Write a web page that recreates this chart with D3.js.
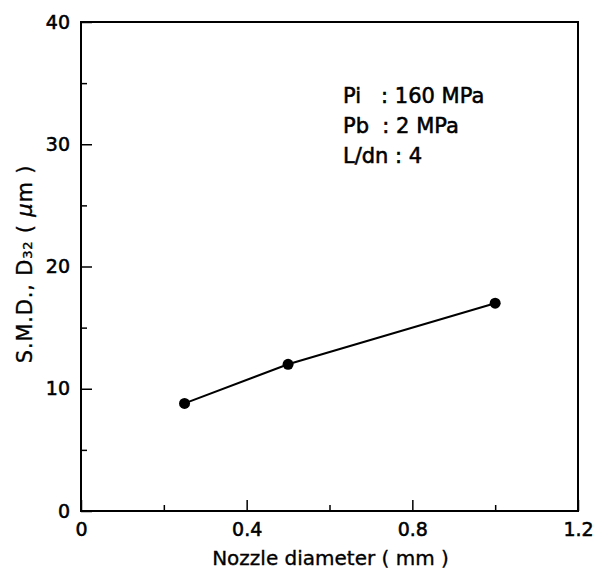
<!DOCTYPE html>
<html>
<head>
<meta charset="utf-8">
<script src="https://cdn.jsdelivr.net/npm/d3@7"></script>
<style>
  html, body { margin: 0; padding: 0; background: #fff; }
  svg { display: block; }
  text { font-family: "DejaVu Sans", sans-serif; fill: #000; stroke: #000; stroke-width: 0.55px; }
  text.lbl { stroke-width: 0.35px; }
</style>
</head>
<body>
<script>
// ---- data ----
const diameters = [0.25, 0.5, 1.0];          // nozzle diameter (mm)
const smd = [8.8, 12.0, 17.0];               // S.M.D. D32 (μm)
const xMajorTicks = [0, 0.4, 0.8, 1.2];
const xTickLabels = ["0", "0.4", "0.8", "1.2"];
const xMinorTicks = [0.2, 0.6, 1.0];
const yMajorTicks = [0, 10, 20, 30, 40];
const yTickLabels = ["0", "10", "20", "30", "40"];
const yMinorTicks = [5, 15, 25, 35];
const notes = ["Pi   : 160 MPa", "Pb  : 2 MPa", "L/dn : 4"];

const W = 604, H = 574;
const svg = d3.select("body").append("svg").attr("width", W).attr("height", H);

const x = d3.scaleLinear().domain([0, 1.2]).range([81, 578]);
const y = d3.scaleLinear().domain([0, 40]).range([511, 22]);

// minor ticks
const xMinor = d3.axisBottom(x).tickValues(xMinorTicks).tickSize(-6).tickFormat("");
const yMinor = d3.axisLeft(y).tickValues(yMinorTicks).tickSize(-6).tickFormat("");
svg.append("g").attr("transform", `translate(0,${y(0)})`).call(xMinor)
  .call(g => g.select(".domain").remove())
  .call(g => g.selectAll("line").attr("stroke", "#000").attr("stroke-width", 1.5));
svg.append("g").attr("transform", `translate(${x(0)},0)`).call(yMinor)
  .call(g => g.select(".domain").remove())
  .call(g => g.selectAll("line").attr("stroke", "#000").attr("stroke-width", 1.5));

// major axes
const xAxis = d3.axisBottom(x).tickValues(xMajorTicks).tickSize(-11).tickPadding(12)
  .tickFormat((d, i) => xTickLabels[i]);
const yAxis = d3.axisLeft(y).tickValues(yMajorTicks).tickSize(-11).tickPadding(11)
  .tickFormat((d, i) => yTickLabels[i]);

svg.append("g").attr("transform", `translate(0,${y(0)})`).call(xAxis)
  .call(g => g.select(".domain").remove())
  .call(g => g.selectAll("line").attr("stroke", "#000").attr("stroke-width", 1.5))
  .call(g => g.selectAll("text").attr("font-size", 19).attr("font-family", "DejaVu Sans").attr("fill", "#000"));
svg.append("g").attr("transform", `translate(${x(0)},0)`).call(yAxis)
  .call(g => g.select(".domain").remove())
  .call(g => g.selectAll("line").attr("stroke", "#000").attr("stroke-width", 1.5))
  .call(g => g.selectAll("text").attr("font-size", 19).attr("font-family", "DejaVu Sans").attr("fill", "#000"));

// frame
svg.append("rect")
  .attr("x", x(0)).attr("y", y(40))
  .attr("width", x(1.2) - x(0)).attr("height", y(0) - y(40))
  .attr("fill", "none").attr("stroke", "#000").attr("stroke-width", 2);

// data line + points
const pts = diameters.map((d, i) => [d, smd[i]]);
svg.append("path")
  .datum(pts)
  .attr("fill", "none").attr("stroke", "#000").attr("stroke-width", 2)
  .attr("d", d3.line().x(d => x(d[0])).y(d => y(d[1])));
svg.selectAll("circle.pt").data(pts).enter().append("circle")
  .attr("class", "pt")
  .attr("cx", d => x(d[0])).attr("cy", d => y(d[1])).attr("r", 5.5)
  .attr("fill", "#000");

// annotations
svg.append("g").selectAll("text").data(notes).enter().append("text")
  .attr("x", 343).attr("y", (d, i) => 103 + i * 30)
  .attr("font-size", 21)
  .style("white-space", "pre")
  .text(d => d);

// x label
svg.append("text").attr("class", "lbl")
  .attr("x", (x(0) + x(1.2)) / 2 + 1).attr("y", 565)
  .attr("text-anchor", "middle").attr("font-size", 20)
  .style("white-space", "pre")
  .text("Nozzle diameter ( mm )");

// y label
const yl = svg.append("text").attr("class", "lbl")
  .attr("transform", `translate(32,264) rotate(-90)`)
  .attr("text-anchor", "middle").attr("font-size", 21)
  .attr("letter-spacing", 0.8)
  .style("white-space", "pre");
yl.append("tspan").text("S.M.D., D");
yl.append("tspan").attr("font-size", 13).text("32");
yl.append("tspan").text(" ( ");
yl.append("tspan").attr("font-style", "italic").text("μ");
yl.append("tspan").text("m )");
</script>
</body>
</html>
